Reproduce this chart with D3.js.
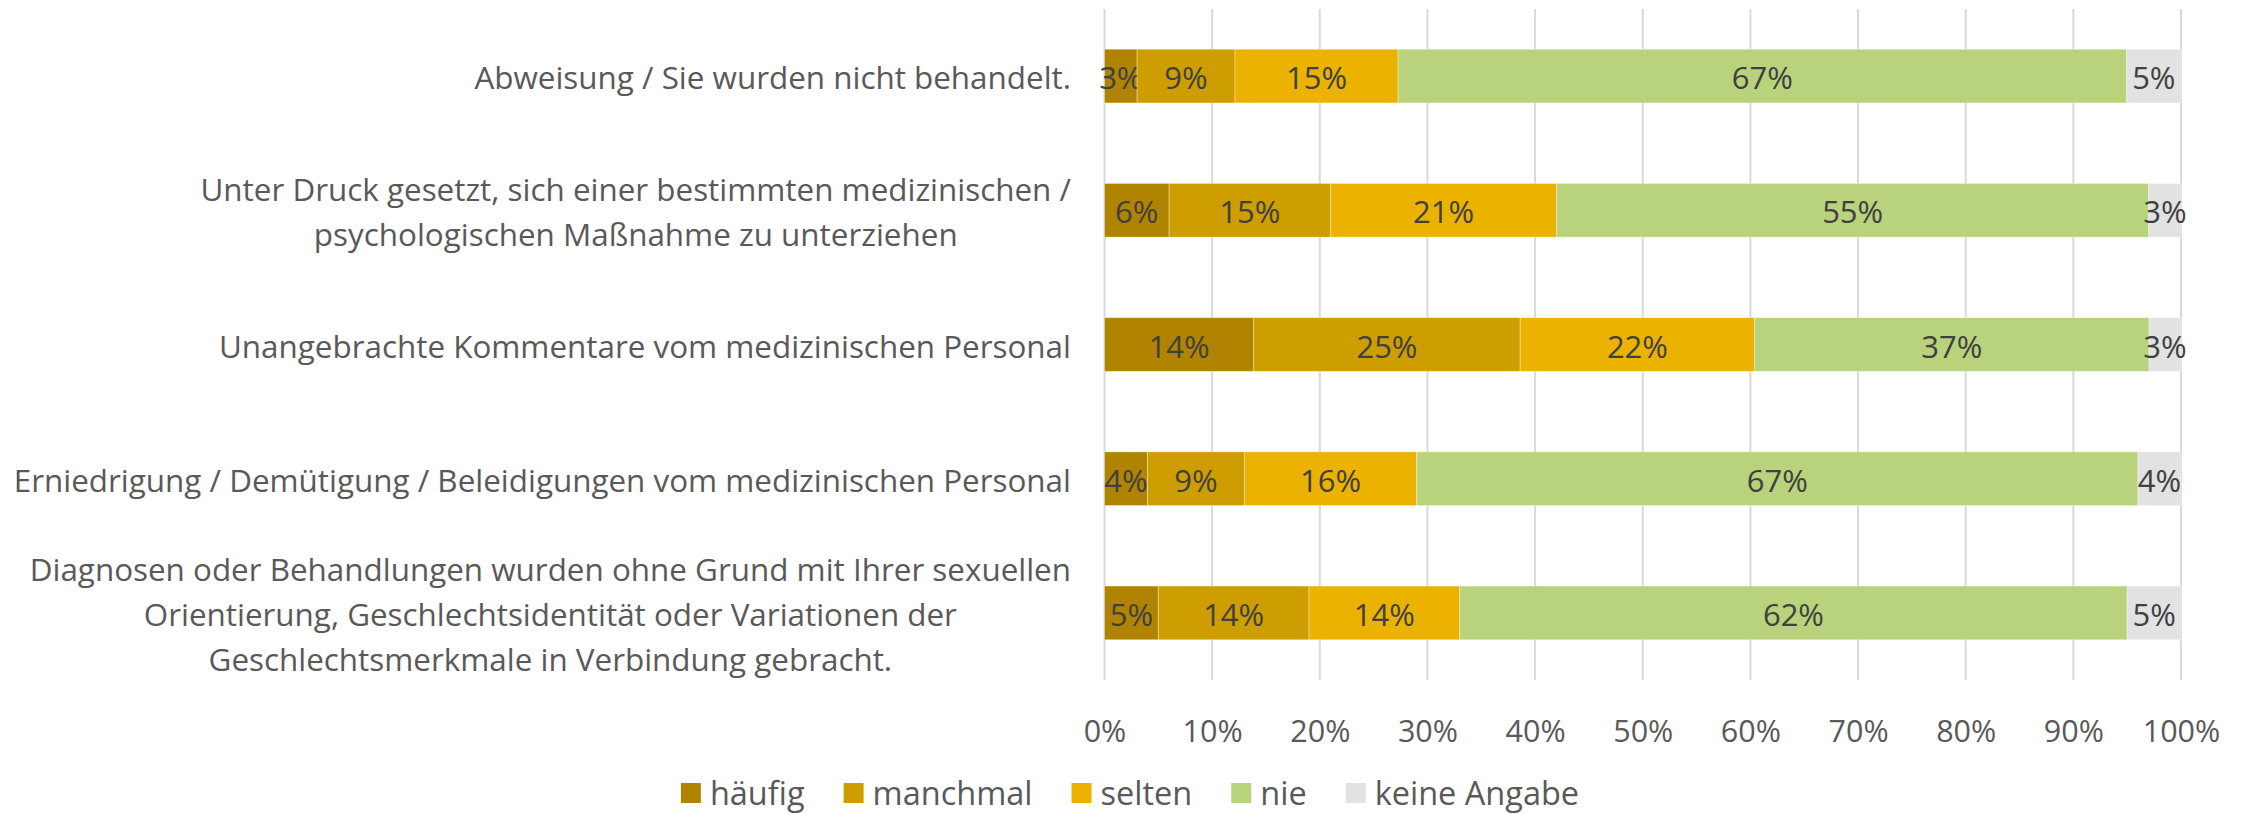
<!DOCTYPE html>
<html>
<head>
<meta charset="utf-8">
<script src="https://cdn.jsdelivr.net/npm/d3@7"></script>
<style>
  body { margin: 0; background: #fff; }
  text { font-family: "Open Sans", "Noto Sans", sans-serif; }
</style>
</head>
<body>
<div id="chart"></div>
<script>
// categories, top to bottom (lines as wrapped in the original)
var categories = [
    ["Abweisung / Sie wurden nicht behandelt."],
    ["Unter Druck gesetzt, sich einer bestimmten medizinischen /", "psychologischen Maßnahme zu unterziehen"],
    ["Unangebrachte Kommentare vom medizinischen Personal"],
    ["Erniedrigung / Demütigung / Beleidigungen vom medizinischen Personal"],
    ["Diagnosen oder Behandlungen wurden ohne Grund mit Ihrer sexuellen", "Orientierung, Geschlechtsidentität oder Variationen der", "Geschlechtsmerkmale in Verbindung gebracht."]
];

var seriesNames = ["häufig", "manchmal", "selten", "nie", "keine Angabe"];
var seriesColors = ["#B08400", "#CE9D00", "#EBB300", "#B9D37C", "#E1E2E1"];

// percent values per series (same order as categories)
var haeufig     = [3, 6, 14, 4, 5];
var manchmal    = [9, 15, 25, 9, 14];
var selten      = [15, 21, 22, 16, 14];
var nie         = [67, 55, 37, 67, 62];
var keineAngabe = [5, 3, 3, 4, 5];

var tickValues = [0, 0.1, 0.2, 0.3, 0.4, 0.5, 0.6, 0.7, 0.8, 0.9, 1];

var width = 2241, height = 814;

//build rows for d3.stack
var seriesValues = [haeufig, manchmal, selten, nie, keineAngabe];
var rows = categories.map(function(c, i) {
    var r = { idx: i };
    seriesNames.forEach(function(s, j) { r[s] = seriesValues[j][i]; });
    return r;
});

var stack = d3.stack()
    .keys(seriesNames)
    .offset(d3.stackOffsetExpand);
var stacked = stack(rows);

var svg = d3.select("#chart")
    .append("svg")
    .attr("width", width)
    .attr("height", height);

var x = d3.scaleLinear()
    .domain([0, 1])
    .range([1104.5, 2181]);

var y = d3.scaleBand()
    .domain(d3.range(categories.length))
    .range([9, 680])
    .paddingInner(0.6)
    .paddingOuter(0.3);

var color = d3.scaleOrdinal()
    .domain(seriesNames)
    .range(seriesColors);

//gridlines
svg.append("g")
    .selectAll("line")
    .data(tickValues)
    .enter().append("line")
      .attr("x1", function(d) { return x(d); })
      .attr("x2", function(d) { return x(d); })
      .attr("y1", y.range()[0])
      .attr("y2", y.range()[1])
      .attr("stroke", "#D9D9D9")
      .attr("stroke-width", 2);

//x axis tick labels
var xAxis = svg.append("g")
    .attr("transform", "translate(0," + 731 + ")")
    .call(d3.axisBottom(x)
        .tickValues(tickValues)
        .tickSize(0)
        .tickPadding(0)
        .tickFormat(d3.format(".0%")));
xAxis.select(".domain").remove();
xAxis.selectAll("text")
    .attr("font-family", "Open Sans")
    .attr("font-size", 30.5)
    .attr("fill", "#595959")
    .attr("dy", "0.35em");

//bars
var layer = svg.append("g")
    .selectAll("g")
    .data(stacked)
    .enter().append("g")
      .attr("fill", function(d) { return color(d.key); });

layer.selectAll("rect")
    .data(function(d) { return d; })
    .enter().append("rect")
      .attr("x", function(d) { return x(d[0]); })
      .attr("y", function(d) { return y(d.data.idx); })
      .attr("width", function(d) { return x(d[1]) - x(d[0]); })
      .attr("height", y.bandwidth())
      .attr("stroke", "#fff")
      .attr("stroke-opacity", 0.35)
      .attr("stroke-width", 1);

//data labels
layer.each(function(s) {
    d3.select(this).selectAll("text")
      .data(s)
      .enter().append("text")
        .attr("x", function(d) { return (x(d[0]) + x(d[1])) / 2; })
        .attr("y", function(d) { return y(d.data.idx) + y.bandwidth() / 2; })
        .attr("dy", "0.42em")
        .attr("text-anchor", "middle")
        .attr("font-size", 31)
        .attr("fill", "#404040")
        .text(function(d) { return d.data[s.key] + "%"; });
});

//category labels, lines centred, block right aligned
var labelRight = 1071, lineH = 45;
var catG = svg.append("g");
categories.forEach(function(lines, i) {
    var g = catG.append("g");
    var t = g.selectAll("text")
      .data(lines)
      .enter().append("text")
        .attr("font-size", 31.4)
        .attr("fill", "#595959")
        .attr("text-anchor", "middle")
        .attr("dy", "0.42em")
        .attr("y", function(d, k) {
            return y(i) + y.bandwidth() / 2 + (k - (lines.length - 1) / 2) * lineH;
        })
        .text(function(d) { return d; });
    var maxW = 0;
    t.each(function() { maxW = Math.max(maxW, this.getComputedTextLength()); });
    t.attr("x", labelRight - maxW / 2);
});

//legend
var legend = svg.append("g");
var lx = 0;
seriesNames.forEach(function(s, i) {
    var item = legend.append("g").attr("transform", "translate(" + lx + ",0)");
    item.append("rect")
        .attr("x", 0)
        .attr("y", -10)
        .attr("width", 20)
        .attr("height", 20)
        .attr("fill", color(s));
    var txt = item.append("text")
        .attr("x", 29)
        .attr("dy", "0.36em")
        .attr("font-size", 32.5)
        .attr("fill", "#595959")
        .text(s);
    lx += 29 + txt.node().getComputedTextLength() + 39;
});
lx -= 39;
legend.attr("transform", "translate(" + (1130 - lx / 2) + "," + 793 + ")");
</script>
</body>
</html>
